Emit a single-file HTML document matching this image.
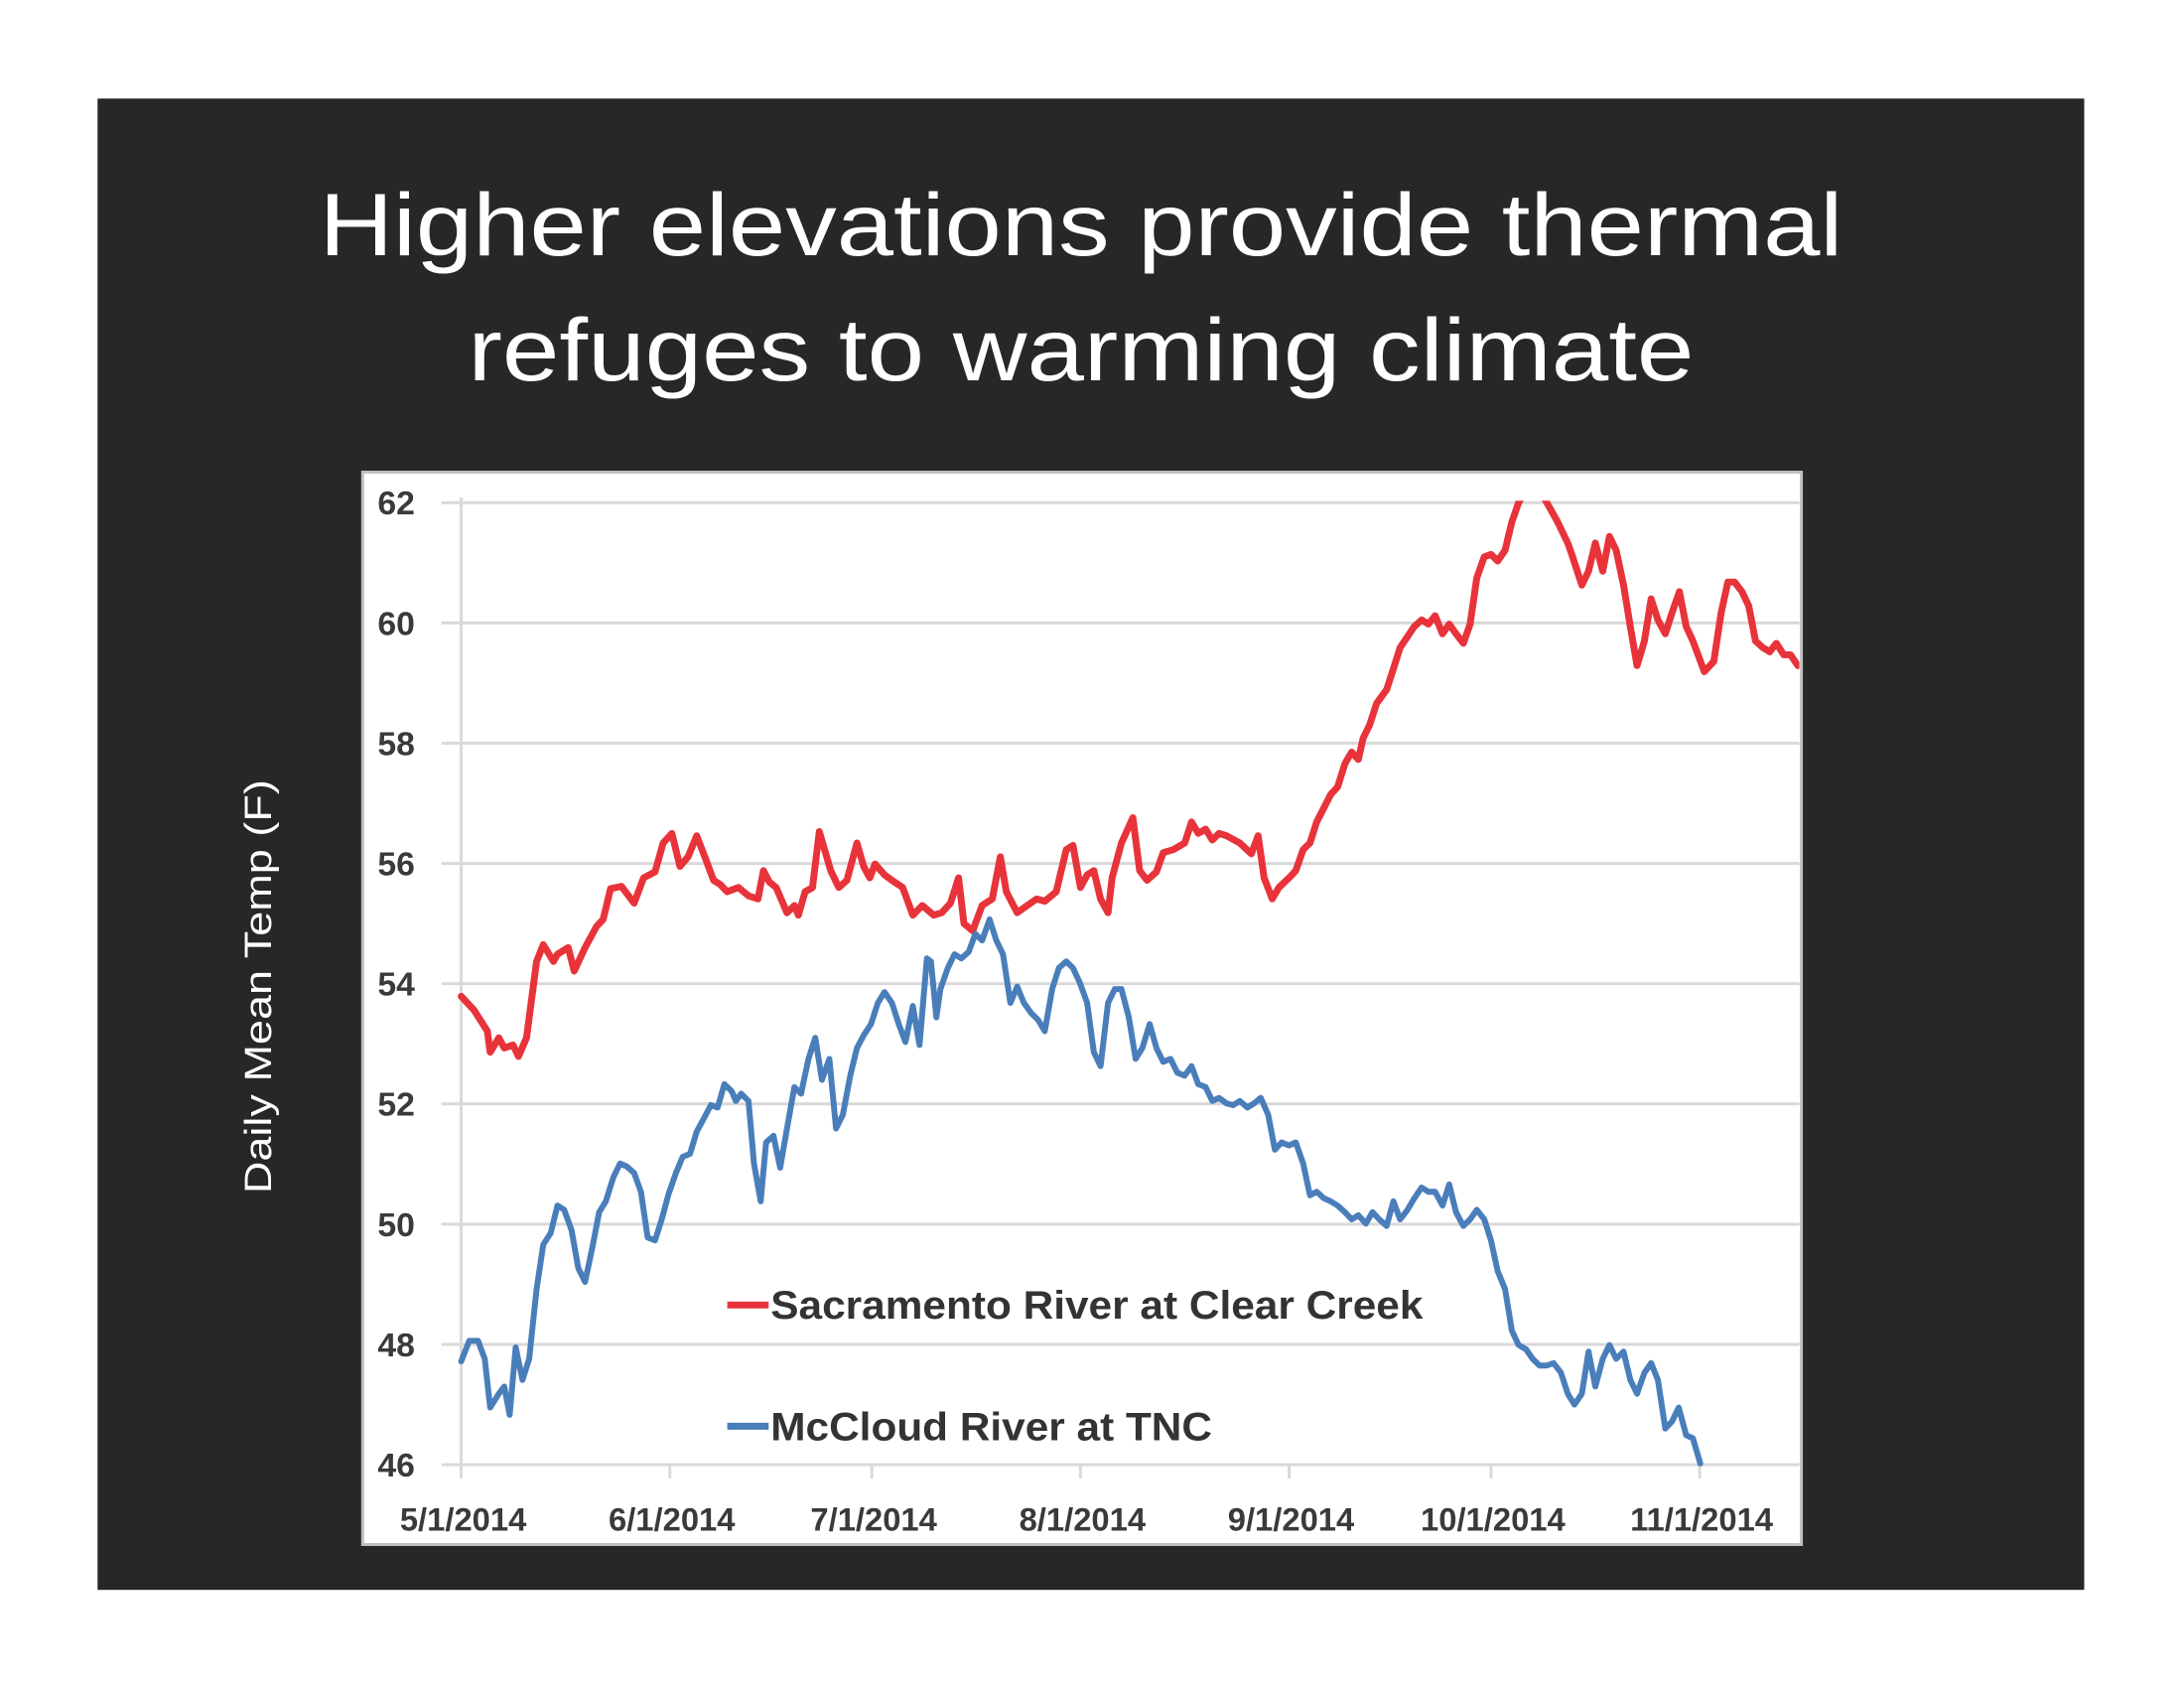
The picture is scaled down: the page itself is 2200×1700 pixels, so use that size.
<!DOCTYPE html>
<html><head><meta charset="utf-8"><style>
html,body{margin:0;padding:0;background:#fff;}
svg{display:block;}
</style></head><body>
<svg id="chart" width="2200" height="1700" viewBox="0 0 2200 1700" xmlns="http://www.w3.org/2000/svg">
<rect x="0" y="0" width="2200" height="1700" fill="#ffffff"/>
<g transform="scale(0.99267)">
<rect x="99" y="100" width="2016" height="1513" fill="#272727"/>
<text x="1097" y="259" text-anchor="middle" font-family="Liberation Sans, sans-serif" font-size="90" fill="#ffffff" textLength="1546" lengthAdjust="spacingAndGlyphs">Higher elevations provide thermal</text>
<text x="1097" y="386" text-anchor="middle" font-family="Liberation Sans, sans-serif" font-size="90" fill="#ffffff" textLength="1244" lengthAdjust="spacingAndGlyphs">refuges to warming climate</text>
<text transform="translate(275,1001) rotate(-90)" text-anchor="middle" font-family="Liberation Sans, sans-serif" font-size="38" fill="#ffffff" textLength="420" lengthAdjust="spacingAndGlyphs">Daily Mean Temp (F)</text>
<rect x="368" y="479" width="1460" height="1088" fill="#ffffff" stroke="#bfbfbf" stroke-width="3"/>
<defs><clipPath id="plotclip"><rect x="440" y="508" width="1386" height="990"/></clipPath></defs>
<g id="grid"></g>
<g id="axes"></g>
<g id="series" clip-path="url(#plotclip)"></g>
<g id="legend">
<line x1="738" y1="1324" x2="780" y2="1324" stroke="#e8333a" stroke-width="7"/>
<text x="782" y="1338" font-family="Liberation Sans, sans-serif" font-weight="bold" font-size="40" fill="#333333" textLength="662" lengthAdjust="spacingAndGlyphs">Sacramento River at Clear Creek</text>
<line x1="738" y1="1447" x2="780" y2="1447" stroke="#4a7ebb" stroke-width="7"/>
<text x="782" y="1461" font-family="Liberation Sans, sans-serif" font-weight="bold" font-size="40" fill="#333333" textLength="448" lengthAdjust="spacingAndGlyphs">McCloud River at TNC</text>
</g>
</g>
</svg>
<script>
const yTicks = [46,48,50,52,54,56,58,60,62];
const xTickDays = [0,31,61,92,123,153,184];
const xTickLabels = ["5/1/2014","6/1/2014","7/1/2014","8/1/2014","9/1/2014","10/1/2014","11/1/2014"];
const sacDays = [0,1.9,3.9,4.3,5.6,6.4,7.7,8.5,9.7,11.2,12.2,13.7,14.3,15.9,16.8,18.4,20.1,21.1,22.2,23.8,25.7,27.1,28.8,30.0,31.3,32.5,33.7,35.0,36.2,37.5,38.5,39.5,41.2,42.7,44.1,44.9,45.8,46.8,48.4,49.5,50.1,51.1,52.2,53.2,54.9,56.1,57.3,58.8,59.8,60.7,61.5,62.9,64.0,65.6,67.1,68.5,70.2,71.4,72.7,73.9,74.7,76.0,77.4,78.9,80.1,81.0,82.6,84.1,85.5,86.7,88.4,89.9,90.9,92.0,93.0,94.0,95.0,96.1,96.7,98.1,99.8,100.8,101.9,103.3,104.3,105.8,107.5,108.5,109.5,110.6,111.6,112.6,113.7,115.7,117.4,118.4,119.3,120.5,121.5,123.0,124.0,125.1,126.1,127.1,129.2,130.2,131.3,132.3,133.3,134.0,135.0,136.0,137.5,138.5,139.5,141.6,142.7,143.7,144.7,145.8,146.8,147.8,148.9,149.9,150.9,152.0,153.0,154.0,155.1,156.1,157.1,159.2,161.3,162.9,164.4,165.0,166.5,167.5,168.5,169.6,170.6,171.6,172.7,173.7,174.7,175.8,176.8,177.8,178.9,179.9,181.0,182.0,183.0,184.7,186.1,187.2,188.2,189.2,190.3,191.3,192.3,193.4,194.4,195.4,196.5,197.5,198.6];
const sacTemps = [53.79,53.56,53.21,52.86,53.10,52.93,52.98,52.79,53.10,54.37,54.65,54.37,54.49,54.60,54.21,54.60,54.95,55.07,55.58,55.62,55.34,55.76,55.86,56.34,56.50,55.95,56.11,56.46,56.11,55.72,55.65,55.53,55.60,55.46,55.41,55.88,55.69,55.60,55.18,55.30,55.14,55.53,55.60,56.53,55.88,55.60,55.72,56.34,55.95,55.76,55.99,55.81,55.72,55.60,55.14,55.30,55.14,55.18,55.34,55.76,55.00,54.88,55.30,55.41,56.11,55.53,55.18,55.30,55.41,55.37,55.53,56.23,56.30,55.60,55.81,55.88,55.41,55.18,55.76,56.34,56.76,55.88,55.72,55.86,56.18,56.23,56.34,56.69,56.50,56.57,56.39,56.50,56.46,56.34,56.16,56.46,55.76,55.41,55.60,55.76,55.88,56.23,56.34,56.69,57.15,57.27,57.66,57.85,57.73,58.08,58.31,58.66,58.89,59.24,59.59,59.94,60.05,59.98,60.12,59.82,59.98,59.82,59.66,59.98,60.75,61.10,61.14,61.03,61.21,61.68,62.0,62.4,62.0,61.68,61.33,61.14,60.63,60.86,61.33,60.86,61.44,61.21,60.63,59.94,59.29,59.70,60.40,60.05,59.82,60.17,60.52,59.94,59.70,59.19,59.36,60.17,60.68,60.68,60.52,60.28,59.70,59.59,59.52,59.66,59.47,59.47,59.29];
const mcDays = [0,1.2,2.5,3.5,4.3,5.6,6.4,7.2,8.1,9.1,10.1,11.2,12.2,13.3,14.3,15.3,16.4,17.4,18.4,19.5,20.5,21.5,22.6,23.6,24.6,25.7,26.7,27.7,28.8,29.8,30.8,31.9,32.9,34.0,35.0,36.0,37.1,38.1,39.1,40.2,40.8,41.6,42.7,43.5,44.5,45.3,46.4,47.4,48.4,49.5,50.5,51.6,52.6,53.6,54.7,55.7,56.7,57.8,58.8,59.8,60.9,61.9,62.9,64.0,65.0,66.0,67.1,68.1,69.2,69.8,70.6,71.2,72.3,73.3,74.3,75.4,76.4,77.4,78.5,79.5,80.5,81.6,82.6,83.6,84.7,85.7,86.7,87.8,88.8,89.9,90.9,91.9,93.0,94.0,95.0,96.1,97.1,98.1,99.2,100.2,101.2,102.3,103.3,104.3,105.4,106.4,107.5,108.5,109.5,110.6,111.6,112.6,113.7,114.7,115.7,116.8,117.8,118.8,119.9,120.9,121.9,123.0,124.0,125.1,126.1,127.1,128.2,129.2,130.2,131.3,132.3,133.3,134.4,135.4,136.4,137.5,138.5,139.5,140.6,141.6,142.7,143.7,144.7,145.8,146.8,147.8,148.9,149.9,150.9,152.0,153.0,154.0,155.1,156.1,157.1,158.2,159.2,160.2,161.3,162.3,163.4,164.4,165.4,166.5,167.5,168.5,169.6,170.6,171.6,172.7,173.7,174.7,175.8,176.8,177.8,178.9,179.9,180.9,182.0,183.0,184.1];
const mcTemps = [47.72,48.06,48.06,47.76,46.95,47.18,47.30,46.83,47.95,47.41,47.76,48.92,49.66,49.85,50.31,50.24,49.90,49.27,49.04,49.62,50.20,50.38,50.78,51.01,50.96,50.85,50.54,49.78,49.73,50.08,50.50,50.85,51.12,51.17,51.54,51.75,51.98,51.94,52.33,52.21,52.05,52.17,52.05,51.01,50.38,51.36,51.47,50.94,51.59,52.28,52.17,52.75,53.10,52.40,52.75,51.59,51.82,52.47,52.93,53.14,53.33,53.68,53.86,53.68,53.33,53.03,53.63,52.98,54.42,54.37,53.44,53.91,54.26,54.49,54.42,54.53,54.83,54.72,55.07,54.72,54.49,53.68,53.95,53.68,53.51,53.40,53.21,53.91,54.26,54.37,54.26,54.02,53.68,52.86,52.63,53.68,53.91,53.91,53.44,52.75,52.93,53.33,52.93,52.70,52.75,52.52,52.47,52.63,52.33,52.28,52.05,52.10,52.01,51.98,52.05,51.94,52.01,52.10,51.82,51.24,51.36,51.31,51.36,51.01,50.48,50.54,50.43,50.38,50.31,50.20,50.08,50.15,50.01,50.20,50.08,49.97,50.38,50.08,50.24,50.43,50.61,50.54,50.54,50.31,50.66,50.20,49.97,50.08,50.24,50.08,49.73,49.22,48.92,48.23,47.99,47.92,47.76,47.65,47.65,47.69,47.53,47.18,47.00,47.18,47.88,47.30,47.76,47.99,47.76,47.88,47.41,47.18,47.53,47.69,47.41,46.60,46.72,46.95,46.49,46.44,46.02];

const NS = "http://www.w3.org/2000/svg";
const X0 = 468, PX_PER_DAY = 6.83, XR = 1826;
const Y62 = 510, PX_PER_DEG = 61.0;
function xScale(d){ return X0 + d * PX_PER_DAY; }
function yScale(t){ return Y62 + (62 - t) * PX_PER_DEG; }
function mk(tag, attrs, parent){
  const el = document.createElementNS(NS, tag);
  for (const k in attrs) el.setAttribute(k, attrs[k]);
  parent.appendChild(el);
  return el;
}
const grid = document.getElementById('grid');
const axes = document.getElementById('axes');
const series = document.getElementById('series');

yTicks.forEach(function(t){
  const y = yScale(t);
  const gl = mk('line', {x1: 448, y1: y, x2: XR, y2: y, stroke: '#d9d9d9', 'stroke-width': 3}, grid);
  
  
  const lb = mk('text', {x: 421, y: y + 12, 'text-anchor': 'end', 'font-family': 'Liberation Sans, sans-serif', 'font-weight': 'bold', 'font-size': 34, fill: '#3a3a3a'}, axes);
  lb.textContent = String(t);
  
  
});
const ax = mk('line', {x1: X0, y1: Y62 - 5, x2: X0, y2: yScale(46) + 14, stroke: '#d9d9d9', 'stroke-width': 3}, axes);


xTickDays.forEach(function(d, i){
  const x = xScale(d);
  const tk = mk('line', {x1: x, y1: yScale(46), x2: x, y2: yScale(46) + 14, stroke: '#d9d9d9', 'stroke-width': 3}, axes);
  
  
  const lb = mk('text', {x: x + 2, y: 1553, 'text-anchor': 'middle', 'font-family': 'Liberation Sans, sans-serif', 'font-weight': 'bold', 'font-size': 33, fill: '#3a3a3a'}, axes);
  lb.textContent = xTickLabels[i];
  
  
});
function pathFor(days, temps){
  return days.map(function(d, i){ return (i ? 'L' : 'M') + xScale(d).toFixed(1) + ',' + yScale(temps[i]).toFixed(1); }).join(' ');
}
const red = mk('path', {d: pathFor(sacDays, sacTemps), fill: 'none', stroke: '#e8333a', 'stroke-width': 7, 'stroke-linejoin': 'round', 'stroke-linecap': 'round'}, series);


const blue = mk('path', {d: pathFor(mcDays, mcTemps), fill: 'none', stroke: '#4a7ebb', 'stroke-width': 6, 'stroke-linejoin': 'round', 'stroke-linecap': 'round'}, series);


</script>
</body></html>
